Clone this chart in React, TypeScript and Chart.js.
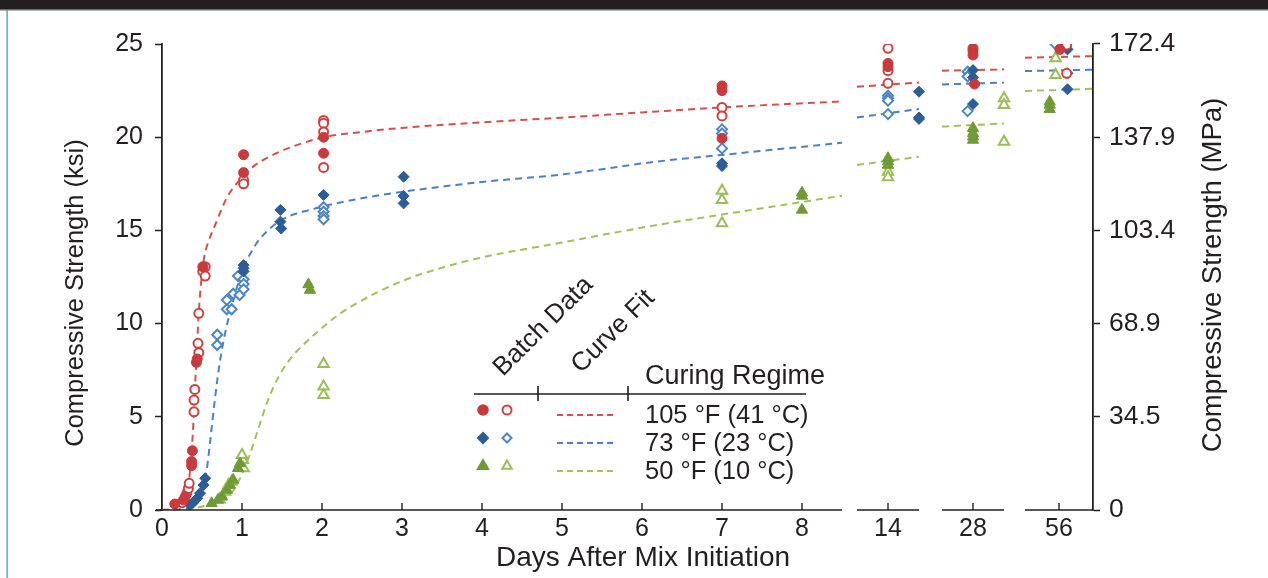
import React, { useEffect, useRef } from 'react';
import { Chart, registerables } from 'chart.js';
import { drawPoint } from 'chart.js/helpers';

Chart.register(...registerables);

// ---------- DATA ----------
const xTickDays = [0, 1, 2, 3, 4, 5, 6, 7, 8, 14, 28, 56];
const xTickLabels = ['0', '1', '2', '3', '4', '5', '6', '7', '8', '14', '28', '56'];
const ksiTicks = [0, 5, 10, 15, 20, 25];
const mpaTicks = [0, 34.5, 68.9, 103.4, 137.9, 172.4];
const mpaLabels = ['0', '34.5', '68.9', '103.4', '137.9', '172.4'];

// Batch data: [days, ksi]
const red105Filled: number[][] = [
  [0.16, 0.32], [0.27, 0.54], [0.29, 0.71], [0.37, 2.38], [0.37, 2.6], [0.38, 3.18],
  [0.43, 7.92], [0.44, 8.1], [0.51, 13.05], [1.02, 19.06], [1.02, 18.1], [2.02, 20.0],
  [2.02, 19.14], [7.0, 22.75], [7.0, 22.5], [7.0, 19.94],
  [14, 23.96], [14, 23.78], [28, 24.77], [28, 24.64], [28, 24.41], [28.2, 22.85], [56.1, 24.71],
];
const red105Open: number[][] = [
  [0.25, 0.39], [0.31, 0.9], [0.33, 1.16], [0.34, 1.43], [0.4, 5.27], [0.4, 5.9], [0.41, 6.47],
  [0.45, 8.94], [0.46, 8.44], [0.46, 10.55], [0.54, 13.05], [0.51, 12.8], [0.54, 12.55],
  [1.02, 17.7], [1.02, 17.5], [2.02, 20.9], [2.02, 20.75], [2.02, 20.28], [2.02, 18.38],
  [7.0, 21.6], [7.0, 21.14], [14, 24.77], [14, 23.57], [14, 22.89], [56.9, 24.95], [56.9, 23.43],
];
const blue73Filled: number[][] = [
  [0.35, 0.27], [0.39, 0.39], [0.44, 0.63], [0.475, 0.9], [0.52, 1.34], [0.54, 1.7],
  [1.02, 13.14], [1.02, 12.97], [1.02, 12.8], [1.48, 16.1], [1.48, 15.47], [1.49, 15.1],
  [2.02, 16.9], [3.02, 17.88], [3.02, 16.85], [3.02, 16.45], [7.0, 18.6], [7.0, 18.45],
  [18, 22.44], [18, 21.06], [18, 20.98], [28, 23.6], [28, 23.21], [28, 21.78],
  [57, 24.71], [57, 23.43], [57, 22.57],
];
const blue73Open: number[][] = [
  [0.69, 9.4], [0.69, 8.85], [0.81, 10.77], [0.87, 10.77], [0.81, 11.27], [0.89, 11.6],
  [0.95, 12.55], [0.97, 11.53], [1.02, 12.38], [1.02, 12.12], [1.02, 11.84],
  [2.02, 16.24], [2.02, 16.0], [2.02, 15.77], [2.02, 15.6], [7.0, 20.42], [7.0, 20.2], [7.0, 19.4],
  [14, 22.23], [14, 22.09], [14, 21.96], [14, 21.24], [27.3, 23.51], [27.3, 23.26], [27.3, 21.4],
  [55.5, 25.03],
];
const green50Filled: number[][] = [
  [0.62, 0.36], [0.7, 0.54], [0.75, 0.71], [0.81, 1.07], [0.85, 1.34], [0.89, 1.61],
  [0.95, 2.24], [0.975, 2.5], [1.83, 12.1], [1.85, 11.8], [8.0, 17.02], [8.0, 16.85], [8.0, 16.1],
  [14, 18.87], [14, 18.69], [14, 18.51], [28, 20.48], [28, 20.21], [28, 20.03], [28, 19.85],
  [54.9, 21.9], [54.9, 21.73], [54.9, 21.5],
];
const green50Open: number[][] = [
  [0.72, 0.57], [0.79, 0.98], [0.83, 1.34], [0.87, 1.52], [0.975, 2.32], [1.01, 2.68], [1.0, 2.95],
  [1.02, 2.24], [2.02, 7.83], [2.02, 6.62], [2.02, 6.17], [7.0, 17.13], [7.0, 16.63], [7.0, 15.38],
  [14, 18.15], [14, 17.85], [32, 22.09], [32, 21.73], [32, 19.76], [55.6, 24.23], [55.6, 23.34],
];

// Curve fits: [days, ksi]; null splits the axis segments
const fit105: (number[] | null)[] = [
  [0, 0], [0.1, 0.05], [0.22, 0.39], [0.33, 1.25], [0.36, 2.68], [0.39, 4.47], [0.41, 6.44],
  [0.43, 8.05], [0.455, 10.3], [0.51, 13.05], [0.545, 13.9], [0.58, 14.4], [0.66, 15.25],
  [0.81, 16.75], [0.95, 17.6], [1.14, 18.42], [1.43, 19.14], [1.73, 19.64], [2.02, 20.0],
  [2.5, 20.28], [3, 20.5], [4, 20.8], [5, 21.05], [6, 21.33], [7, 21.6], [8.5, 21.92],
  null, [10, 22.71], [18, 22.93], null, [24, 23.57], [32, 23.64], null, [52, 24.26], [60, 24.35],
];
const fit73: (number[] | null)[] = [
  [0, 0], [0.2, 0.02], [0.31, 0.09], [0.42, 0.5], [0.5, 1.1], [0.56, 2.2], [0.6, 3.6],
  [0.66, 5.9], [0.725, 8.0], [0.8, 9.7], [0.87, 10.9], [0.94, 12.0], [1.02, 13.0], [1.18, 14.3],
  [1.3, 14.9], [1.45, 15.45], [1.64, 15.85], [1.85, 16.1], [2.02, 16.3], [2.23, 16.5],
  [2.6, 16.8], [3.02, 17.08], [4, 17.6], [5, 18.0], [6.2, 18.7], [7, 19.05], [8.5, 19.7],
  null, [10, 21.06], [18, 21.51], null, [24, 22.83], [32, 22.93], null, [52, 23.55], [60, 23.62],
];
const fit50: (number[] | null)[] = [
  [0, 0], [0.39, 0.09], [0.6, 0.32], [0.81, 0.71], [0.9, 1.1], [0.975, 1.7], [1.05, 2.45],
  [1.1, 3.0], [1.2, 4.3], [1.3, 5.6], [1.4, 6.65], [1.52, 7.6], [1.65, 8.35], [1.8, 9.0],
  [1.98, 9.7], [2.23, 10.55], [2.5, 11.25], [2.75, 11.8], [3.06, 12.38], [3.5, 13.0], [4, 13.55],
  [5, 14.35], [6.2, 15.3], [7, 15.85], [8.5, 16.86],
  null, [10, 18.51], [18, 18.95], null, [24, 20.57], [32, 20.74], null, [52, 22.48], [60, 22.6],
];

const legendRows = ['105 °F (41 °C)', '73 °F (23 °C)', '50 °F (10 °C)'];

// ---------- STYLE / LAYOUT ----------
const FONT = '"Liberation Sans", Arial, Helvetica, sans-serif';
const INK = '#231f20';
const C = {
  redFill: '#c93a3c', redOpen: '#d0403f', redLine: '#d4504c',
  blueFill: '#2b5d98', blueOpen: '#4b86c8', blueLine: '#4a80c8',
  greenFill: '#6f9b36', greenOpen: '#9bbd57', greenLine: '#9dc35a',
};
const MPA_PER_KSI = 6.895;

// broken x axis: day range -> axis-unit range
const SEGMENTS = [
  { d0: 0, d1: 8.5, a0: 0, a1: 8.5 },
  { d0: 10, d1: 18, a0: 8.6875, a1: 9.4625 },
  { d0: 24, d1: 32, a0: 9.75, a1: 10.525 },
  { d0: 52, d1: 60, a0: 10.7875, a1: 11.6375 },
];
const X_MAX = 11.6375;
function toAxis(day: number): number {
  for (const s of SEGMENTS) {
    if (day >= s.d0 - 1e-9 && day <= s.d1 + 1e-9) return s.a0 + ((day - s.d0) * (s.a1 - s.a0)) / (s.d1 - s.d0);
  }
  return day;
}
const pts = (arr: (number[] | null)[]) =>
  arr.map((p) => (p ? { x: toAxis(p[0]), y: p[1] } : { x: NaN, y: null as any }));

const decor = {
  id: 'decor',
  beforeDraw(chart: any) {
    const { ctx, width, height } = chart;
    ctx.save();
    ctx.fillStyle = '#ffffff';
    ctx.fillRect(0, 0, width, height);
    ctx.fillStyle = INK;
    ctx.fillRect(0, 0, width, 9);
    ctx.fillStyle = '#6a6a6a';
    ctx.fillRect(0, 9, width, 1.5);
    ctx.fillStyle = '#2b9f95';
    ctx.fillRect(6.5, 10, 1.2, height - 10);
    ctx.restore();
  },
  afterDraw(chart: any) {
    const { ctx } = chart;
    const xs = chart.scales.x;
    const ys = chart.scales.y;
    const y0 = ys.getPixelForValue(0);
    ctx.save();
    // broken x axis
    ctx.strokeStyle = INK;
    ctx.lineWidth = 1.6;
    SEGMENTS.forEach((s, i) => {
      const xa = xs.getPixelForValue(s.a0);
      const xb = xs.getPixelForValue(s.a1);
      ctx.beginPath();
      ctx.moveTo(i === 0 ? xa - 6 : xa, y0);
      ctx.lineTo(xb, y0);
      ctx.stroke();
    });
    ctx.lineWidth = 1.4;
    xTickDays.forEach((d) => {
      if (d === 0) return;
      const px = xs.getPixelForValue(toAxis(d));
      ctx.beginPath();
      ctx.moveTo(px, y0);
      ctx.lineTo(px, y0 - 7);
      ctx.stroke();
    });

    // axis titles
    ctx.fillStyle = INK;
    ctx.textAlign = 'center';
    ctx.textBaseline = 'middle';
    ctx.font = `28px ${FONT}`;
    ctx.fillText('Days After Mix Initiation', 643, 558);
    ctx.save();
    ctx.font = `25.5px ${FONT}`;
    ctx.translate(76, 293);
    ctx.rotate(-Math.PI / 2);
    ctx.fillText('Compressive Strength (ksi)', 0, 0);
    ctx.restore();
    ctx.save();
    ctx.font = `27.5px ${FONT}`;
    ctx.translate(1213, 275);
    ctx.rotate(-Math.PI / 2);
    ctx.fillText('Compressive Strength (MPa)', 0, 0);
    ctx.restore();

    // legend
    ctx.font = `26px ${FONT}`;
    ctx.textAlign = 'left';
    ctx.textBaseline = 'alphabetic';
    ctx.save();
    ctx.translate(503, 377);
    ctx.rotate(-Math.PI / 4);
    ctx.fillText('Batch Data', 0, 0);
    ctx.restore();
    ctx.save();
    ctx.translate(581, 374);
    ctx.rotate(-Math.PI / 4);
    ctx.fillText('Curve Fit', 0, 0);
    ctx.restore();
    ctx.textBaseline = 'middle';
    ctx.font = `27px ${FONT}`;
    ctx.fillText('Curing Regime', 645, 377);

    ctx.strokeStyle = INK;
    ctx.lineWidth = 1.6;
    ctx.beginPath();
    ctx.moveTo(474, 394);
    ctx.lineTo(806, 394);
    ctx.moveTo(538, 386);
    ctx.lineTo(538, 401);
    ctx.moveTo(628, 386);
    ctx.lineTo(628, 401);
    ctx.stroke();

    const rows = [
      { style: 'circle', fill: C.redFill, open: C.redOpen, line: C.redLine, r: 5 },
      { style: 'rectRot', fill: C.blueFill, open: C.blueOpen, line: C.blueLine, r: 5 },
      { style: 'triangle', fill: C.greenFill, open: C.greenOpen, line: C.greenLine, r: 6 },
    ];
    const rowY = [413, 441, 469];
    ctx.font = `25.5px ${FONT}`;
    rows.forEach((r, i) => {
      const yy = rowY[i];
      ctx.fillStyle = r.fill;
      ctx.strokeStyle = r.fill;
      drawPoint(ctx, { pointStyle: r.style as any, radius: r.r, rotation: 0, borderWidth: 1 } as any, 483, yy - 3);
      ctx.fillStyle = '#ffffff';
      ctx.strokeStyle = r.open;
      ctx.lineWidth = 2;
      drawPoint(ctx, { pointStyle: r.style as any, radius: r.r - 0.5, rotation: 0, borderWidth: 2 } as any, 507, yy - 3);
      ctx.strokeStyle = r.line;
      ctx.lineWidth = 2;
      ctx.setLineDash([6, 4]);
      ctx.beginPath();
      ctx.moveTo(557, yy + 2);
      ctx.lineTo(613, yy + 2);
      ctx.stroke();
      ctx.setLineDash([]);
      ctx.fillStyle = INK;
      ctx.fillText(legendRows[i], 645, yy + 3);
    });
    ctx.restore();
  },
};

export default function App() {
  const ref = useRef<HTMLCanvasElement | null>(null);
  useEffect(() => {
    document.body.style.margin = '0';
    const canvas = ref.current;
    if (!canvas) return;

    const scatterDs = (data: number[][], style: string, color: string, open: boolean, r: number) => ({
      type: 'scatter' as const,
      data: pts(data),
      pointStyle: style,
      pointRadius: open ? r - 0.5 : r,
      pointHoverRadius: r,
      pointBackgroundColor: open ? '#ffffff' : color,
      pointBorderColor: color,
      pointBorderWidth: open ? 2 : 1,
      showLine: false,
      yAxisID: 'y',
      order: 1,
    });
    const lineDs = (data: (number[] | null)[], color: string) => ({
      type: 'line' as const,
      data: pts(data),
      borderColor: color,
      borderWidth: 2,
      borderDash: [7, 5],
      pointRadius: 0,
      fill: false,
      spanGaps: false,
      cubicInterpolationMode: 'monotone' as const,
      yAxisID: 'y',
      order: 5,
    });

    const fontTick = { family: FONT, size: 25 };
    const chart = new Chart(canvas, {
      type: 'scatter',
      data: {
        datasets: [
          scatterDs(red105Filled, 'circle', C.redFill, false, 5),
          scatterDs(red105Open, 'circle', C.redOpen, true, 5),
          scatterDs(blue73Filled, 'rectRot', C.blueFill, false, 5.5),
          scatterDs(blue73Open, 'rectRot', C.blueOpen, true, 5.5),
          scatterDs(green50Filled, 'triangle', C.greenFill, false, 6.5),
          scatterDs(green50Open, 'triangle', C.greenOpen, true, 6.5),
          lineDs(fit105, C.redLine),
          lineDs(fit73, C.blueLine),
          lineDs(fit50, C.greenLine),
        ] as any,
      },
      options: {
        responsive: false,
        animation: false,
        devicePixelRatio: 1,
        layout: { padding: { top: 44, left: 0, right: 0, bottom: 0 } },
        plugins: { legend: { display: false }, tooltip: { enabled: false } },
        scales: {
          x: {
            type: 'linear',
            min: 0,
            max: X_MAX,
            afterBuildTicks: (s: any) => {
              s.ticks = xTickDays.map((d) => ({ value: toAxis(d) }));
            },
            afterFit: (s: any) => {
              s.height = 68;
            },
            border: { display: false },
            grid: { display: false, drawTicks: false },
            ticks: {
              autoSkip: false,
              maxRotation: 0,
              padding: 4,
              color: INK,
              font: fontTick,
              callback: (_v: any, i: number) => xTickLabels[i],
            },
          },
          y: {
            type: 'linear',
            position: 'left',
            min: 0,
            max: 25,
            afterBuildTicks: (s: any) => {
              s.ticks = ksiTicks.map((v) => ({ value: v }));
            },
            afterFit: (s: any) => {
              s.width = 162;
            },
            border: { display: true, color: INK, width: 1.8 },
            grid: { drawOnChartArea: false, drawTicks: true, tickLength: 7, tickColor: INK, tickWidth: 1.5 },
            ticks: { padding: 12, color: INK, font: fontTick },
          },
          y2: {
            type: 'linear',
            position: 'right',
            min: 0,
            max: 25 * MPA_PER_KSI,
            afterBuildTicks: (s: any) => {
              s.ticks = mpaTicks.map((v) => ({ value: v }));
            },
            afterFit: (s: any) => {
              s.width = 175;
            },
            border: { display: true, color: INK, width: 1.8 },
            grid: { drawOnChartArea: false, drawTicks: true, tickLength: 7, tickColor: INK, tickWidth: 1.5 },
            ticks: {
              padding: 9,
              color: INK,
              font: { family: FONT, size: 26.5 },
              callback: (_v: any, i: number) => mpaLabels[i],
            },
          },
        },
      } as any,
      plugins: [decor],
    });
    return () => chart.destroy();
  }, []);

  return <canvas ref={ref} width={1268} height={578} style={{ display: 'block' }} />;
}
